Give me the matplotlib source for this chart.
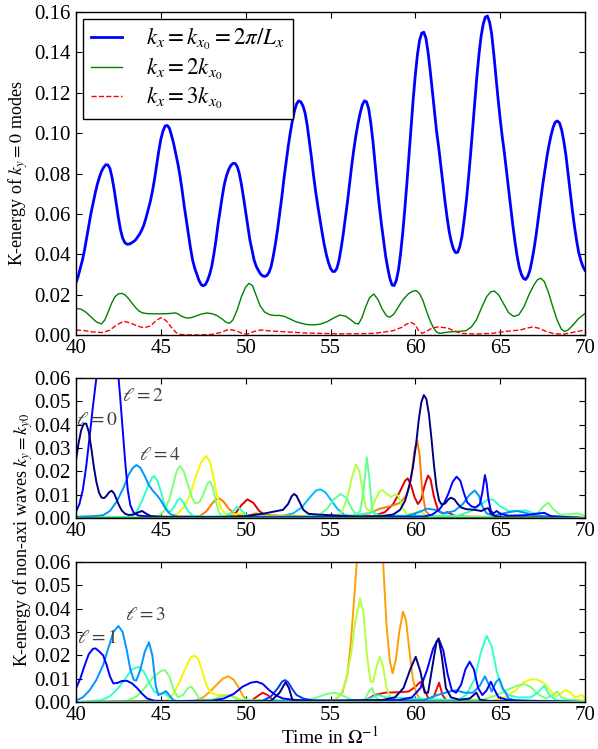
import numpy as np
import matplotlib
matplotlib.use("Agg")
import matplotlib.pyplot as plt
from matplotlib.ticker import FormatStrFormatter

plt.rcParams['font.family'] = 'serif'
plt.rcParams['font.serif'] = ['Liberation Serif', 'DejaVu Serif']
plt.rcParams['mathtext.fontset'] = 'stix'
plt.rcParams['xtick.direction'] = 'in'
plt.rcParams['ytick.direction'] = 'in'
plt.rcParams['xtick.top'] = True
plt.rcParams['ytick.right'] = True
plt.rcParams['xtick.major.size'] = 4
plt.rcParams['ytick.major.size'] = 4
plt.rcParams['xtick.major.pad'] = 3
plt.rcParams['ytick.major.pad'] = 4
plt.rcParams['axes.linewidth'] = 1.0

# ---- top panel: kinetic energy of the k_y = 0 modes (sampled every 0.125) ----
t_top = np.arange(40.0, 70.001, 0.125)
e_kx1 = [
    0.026, 0.029, 0.033, 0.037, 0.042, 0.048, 0.054, 0.060, 0.065, 0.070,
    0.0745, 0.078, 0.081, 0.083, 0.0843, 0.0843, 0.0825, 0.078, 0.072, 0.065,
    0.058, 0.052, 0.048, 0.0458, 0.045, 0.045, 0.0455, 0.0462, 0.047, 0.0485,
    0.050, 0.052, 0.0545, 0.058, 0.062, 0.066, 0.071, 0.077, 0.084, 0.091,
    0.097, 0.101, 0.1035, 0.1038, 0.1025, 0.099, 0.095, 0.090, 0.085, 0.079,
    0.072, 0.064, 0.057, 0.050, 0.043, 0.037, 0.033, 0.030, 0.027, 0.025,
    0.0244, 0.025, 0.027, 0.030, 0.034, 0.040, 0.047, 0.055, 0.062, 0.069,
    0.075, 0.079, 0.082, 0.084, 0.085, 0.085, 0.0835, 0.080, 0.0745, 0.068,
    0.061, 0.054, 0.047, 0.042, 0.037, 0.034, 0.032, 0.0302, 0.0293, 0.029,
    0.0295, 0.031, 0.034, 0.039, 0.045, 0.052, 0.060, 0.068, 0.077, 0.085,
    0.093, 0.100, 0.106, 0.111, 0.1145, 0.116, 0.1155, 0.1135, 0.110, 0.104,
    0.096, 0.088, 0.079, 0.071, 0.064, 0.0575, 0.051, 0.045, 0.040, 0.036,
    0.033, 0.0315, 0.0315, 0.033, 0.037, 0.043, 0.050, 0.058, 0.066, 0.075,
    0.084, 0.092, 0.099, 0.105, 0.110, 0.114, 0.116, 0.1155, 0.112, 0.105,
    0.096, 0.085, 0.074, 0.064, 0.055, 0.047, 0.039, 0.033, 0.028, 0.0248,
    0.0245, 0.027, 0.032, 0.040, 0.050, 0.062, 0.075, 0.089, 0.103, 0.117,
    0.129, 0.139, 0.146, 0.1495, 0.150, 0.147, 0.140, 0.131, 0.121, 0.111,
    0.101, 0.093, 0.084, 0.075, 0.066, 0.058, 0.051, 0.046, 0.0425, 0.0408,
    0.041, 0.044, 0.049, 0.057, 0.066, 0.077, 0.089, 0.102, 0.115, 0.128,
    0.139, 0.148, 0.154, 0.1575, 0.158, 0.155, 0.149, 0.139, 0.128, 0.117,
    0.107, 0.098, 0.090, 0.081, 0.072, 0.063, 0.054, 0.046, 0.039, 0.0335,
    0.030, 0.028, 0.0275, 0.029, 0.032, 0.037, 0.043, 0.050, 0.058, 0.066,
    0.074, 0.081, 0.088, 0.094, 0.099, 0.103, 0.1055, 0.106, 0.105, 0.1015,
    0.096, 0.089, 0.080, 0.071, 0.062, 0.054, 0.047, 0.041, 0.037, 0.034,
    0.032]

kx2_pts = [
    (40.0, 0.0132), (40.3, 0.0128), (40.6, 0.0112), (40.9, 0.0088), (41.2, 0.0065),
    (41.5, 0.0055), (41.7, 0.0075), (41.9, 0.0115), (42.1, 0.0158), (42.3, 0.019),
    (42.5, 0.0204), (42.7, 0.0206), (42.9, 0.0198), (43.1, 0.018), (43.3, 0.0158),
    (43.5, 0.0137), (43.7, 0.0120), (43.9, 0.0110), (44.2, 0.0106), (44.6, 0.0105),
    (45.0, 0.0105), (45.4, 0.0106), (45.7, 0.0108), (45.85, 0.0110), (46.0, 0.0105),
    (46.2, 0.0094), (46.5, 0.0084), (46.8, 0.0086), (47.1, 0.0095), (47.4, 0.0104),
    (47.7, 0.0109), (48.0, 0.0106), (48.3, 0.0097), (48.6, 0.0080), (48.85, 0.0063),
    (49.05, 0.0058), (49.25, 0.0075), (49.5, 0.0125), (49.75, 0.0190), (50.0, 0.0238),
    (50.2, 0.0256), (50.4, 0.0245), (50.6, 0.0200), (50.85, 0.0145), (51.1, 0.0115),
    (51.4, 0.0101), (51.7, 0.0097), (52.0, 0.0097), (52.3, 0.0092), (52.6, 0.0080),
    (52.9, 0.0068), (53.2, 0.0060), (53.6, 0.0052), (54.0, 0.0050), (54.4, 0.0054),
    (54.8, 0.0066), (55.2, 0.0085), (55.55, 0.0099), (55.9, 0.0093), (56.2, 0.0075),
    (56.45, 0.0058), (56.65, 0.0055), (56.85, 0.0085), (57.05, 0.0135), (57.3, 0.0185),
    (57.55, 0.0203), (57.8, 0.0175), (58.05, 0.0128), (58.3, 0.0095), (58.5, 0.0088),
    (58.75, 0.0105), (59.0, 0.0140), (59.3, 0.0178), (59.6, 0.0205), (59.85, 0.0217),
    (60.05, 0.0220), (60.25, 0.0205), (60.45, 0.0170), (60.65, 0.0120), (60.85, 0.0075),
    (61.05, 0.0038), (61.25, 0.0015), (61.45, 0.0008), (61.7, 0.0012), (62.1, 0.0016),
    (62.6, 0.0018), (63.0, 0.0022), (63.3, 0.0040), (63.6, 0.0075), (63.9, 0.0135),
    (64.2, 0.0190), (64.45, 0.0214), (64.65, 0.0218), (64.9, 0.0200), (65.2, 0.0155),
    (65.5, 0.0110), (65.8, 0.0092), (66.1, 0.0100), (66.4, 0.0140), (66.7, 0.0200),
    (67.0, 0.0250), (67.2, 0.0274), (67.4, 0.0281), (67.6, 0.0265), (67.85, 0.0210),
    (68.1, 0.0140), (68.35, 0.0075), (68.6, 0.0030), (68.8, 0.0017), (69.0, 0.0025),
    (69.3, 0.0050), (69.6, 0.0080), (70.0, 0.0107)]

kx3_pts = [
    (40.0, 0.0025), (40.5, 0.0022), (41.0, 0.0015), (41.6, 0.0012), (42.0, 0.0025),
    (42.4, 0.0050), (42.8, 0.0068), (43.2, 0.0060), (43.6, 0.0045), (44.0, 0.0036),
    (44.4, 0.0045), (44.7, 0.0070), (45.0, 0.0086), (45.3, 0.0072), (45.6, 0.0040),
    (45.9, 0.0012), (46.2, 0.0002), (47.0, 0.0), (48.0, 0.0003), (48.5, 0.0012),
    (49.0, 0.0028), (49.4, 0.0022), (49.8, 0.0008), (50.1, 0.0005), (50.5, 0.0018),
    (50.9, 0.0025), (51.5, 0.0020), (52.5, 0.0015), (53.5, 0.0010), (54.5, 0.0008),
    (55.5, 0.0006), (56.5, 0.0006), (57.5, 0.0008), (58.2, 0.0015), (58.7, 0.0022),
    (59.2, 0.0038), (59.5, 0.0055), (59.75, 0.0063), (60.0, 0.0050), (60.2, 0.0020),
    (60.4, 0.0008), (60.7, 0.0020), (61.0, 0.0035), (61.35, 0.0040), (61.9, 0.0035),
    (62.3, 0.0020), (62.7, 0.0008), (63.5, 0.0005), (64.5, 0.0008), (65.3, 0.0018),
    (66.2, 0.0025), (66.6, 0.0035), (66.95, 0.0040), (67.3, 0.0033), (67.7, 0.0018),
    (68.2, 0.0006), (68.8, 0.0005), (69.4, 0.0015), (70.0, 0.0025)]

# ---- middle panel: even azimuthal numbers l, (time, energy) pairs ----
even_l0 = [
    (40.0, 0.025), (40.15, 0.032), (40.3, 0.0375), (40.45, 0.0403), (40.6, 0.0405),
    (40.75, 0.037), (40.9, 0.030), (41.05, 0.022), (41.2, 0.0155), (41.35, 0.011),
    (41.5, 0.0088), (41.65, 0.0085), (41.8, 0.0095), (41.95, 0.011), (42.1, 0.0117),
    (42.25, 0.0105), (42.4, 0.0078), (42.55, 0.0052), (42.7, 0.0032), (42.9, 0.0018),
    (43.1, 0.0013), (43.4, 0.0015), (43.7, 0.0025), (43.9, 0.003), (44.1, 0.002),
    (44.4, 0.0008), (45.0, 0.0005), (46.5, 0.0004), (48.0, 0.0003), (50.0, 0.0008),
    (51.0, 0.0018), (51.7, 0.0028), (52.2, 0.0035), (52.5, 0.006), (52.7, 0.0092),
    (52.85, 0.0103), (53.0, 0.0095), (53.2, 0.0065), (53.4, 0.0035), (53.7, 0.0018),
    (54.2, 0.0015), (55.0, 0.0012), (56.0, 0.0008), (57.0, 0.0006), (58.0, 0.0008),
    (58.7, 0.0015), (59.1, 0.0035), (59.4, 0.0075), (59.65, 0.0140), (59.85, 0.0215),
    (60.05, 0.0320), (60.2, 0.0420), (60.35, 0.0495), (60.5, 0.0527), (60.65, 0.0510),
    (60.8, 0.0445), (60.95, 0.0340), (61.1, 0.0225), (61.25, 0.0130), (61.4, 0.0075),
    (61.55, 0.0058), (61.75, 0.0062), (61.95, 0.0080), (62.1, 0.0087), (62.3, 0.0080),
    (62.5, 0.0060), (62.7, 0.0045), (63.0, 0.0038), (63.5, 0.0035), (63.9, 0.0030),
    (64.15, 0.0040), (64.3, 0.0042), (64.45, 0.0020), (64.7, 0.0008), (65.2, 0.0003),
    (70.0, 0.0)]
even_l2 = [
    (40.0, 0.0027), (40.2, 0.0060), (40.4, 0.0120), (40.6, 0.0220), (40.8, 0.0348),
    (41.0, 0.0480), (41.2, 0.0600), (41.5, 0.0760), (41.9, 0.0850), (42.2, 0.0800),
    (42.45, 0.0650), (42.6, 0.0520), (42.75, 0.0380), (42.9, 0.0240), (43.05, 0.0120),
    (43.2, 0.0055), (43.4, 0.0022), (43.7, 0.0010), (44.5, 0.0006), (45.5, 0.0004),
    (50.0, 0.0003), (55.0, 0.0004), (60.5, 0.0006), (61.0, 0.0015), (61.4, 0.0035),
    (61.7, 0.0065), (61.95, 0.0105), (62.2, 0.0155), (62.43, 0.0177), (62.65, 0.0160),
    (62.85, 0.0110), (63.05, 0.0068), (63.3, 0.0050), (63.55, 0.0045), (63.8, 0.0060),
    (63.95, 0.0110), (64.1, 0.0184), (64.2, 0.0150), (64.3, 0.0085), (64.45, 0.0030),
    (64.6, 0.0020), (64.8, 0.0030), (65.0, 0.0018), (65.5, 0.0010), (66.5, 0.0012),
    (67.3, 0.0020), (67.6, 0.0022), (68.0, 0.0008), (70.0, 0.0)]
even_l4 = [
    (40.0, 0.0005), (41.0, 0.0008), (41.6, 0.0012), (42.0, 0.0030), (42.4, 0.0070),
    (42.8, 0.0130), (43.1, 0.0185), (43.35, 0.0215), (43.57, 0.0227), (43.8, 0.0215),
    (44.05, 0.0180), (44.3, 0.0140), (44.55, 0.0115), (44.8, 0.0095), (45.0, 0.0075),
    (45.2, 0.0050), (45.4, 0.0028), (45.6, 0.0015), (46.0, 0.0006), (50.0, 0.0004),
    (58.0, 0.0005), (59.5, 0.0008), (60.2, 0.0025), (60.7, 0.0040), (61.2, 0.0035),
    (61.7, 0.0020), (62.3, 0.0030), (62.8, 0.0060), (63.2, 0.0100), (63.5, 0.0118),
    (63.75, 0.0095), (63.95, 0.0050), (64.2, 0.0020), (64.6, 0.0010), (65.5, 0.0025),
    (66.0, 0.0030), (66.5, 0.0022), (67.0, 0.0010), (70.0, 0.0)]
even_l6 = [
    (40.0, 0.0), (43.2, 0.0005), (43.6, 0.0030), (43.9, 0.0075), (44.2, 0.0130),
    (44.45, 0.0170), (44.6, 0.0180), (44.8, 0.0160), (45.0, 0.0115), (45.2, 0.0060),
    (45.4, 0.0030), (45.6, 0.0030), (45.8, 0.0050), (46.0, 0.0078), (46.15, 0.0084),
    (46.35, 0.0065), (46.6, 0.0030), (46.9, 0.0010), (47.5, 0.0005), (48.8, 0.0008),
    (49.2, 0.0025), (49.5, 0.0048), (49.8, 0.0030), (50.1, 0.0008), (53.0, 0.0005),
    (54.0, 0.0010), (55.5, 0.0010), (56.5, 0.0012), (57.5, 0.0025), (57.8, 0.0010),
    (62.5, 0.0010), (63.3, 0.0030), (63.9, 0.0060), (64.3, 0.0080), (64.6, 0.0078),
    (65.0, 0.0050), (65.5, 0.0030), (66.0, 0.0030), (66.5, 0.0033), (67.0, 0.0020),
    (67.6, 0.0005), (70.0, 0.0)]
even_l8 = [
    (40.0, 0.0), (44.8, 0.0005), (45.2, 0.0030), (45.5, 0.0080), (45.75, 0.0150),
    (45.95, 0.0205), (46.13, 0.0223), (46.35, 0.0200), (46.6, 0.0140), (46.85, 0.0085),
    (47.05, 0.0062), (47.3, 0.0070), (47.55, 0.0110), (47.75, 0.0148), (47.9, 0.0156),
    (48.05, 0.0135), (48.25, 0.0070), (48.45, 0.0020), (48.7, 0.0005), (66.5, 0.0005),
    (67.2, 0.0020), (67.55, 0.0050), (67.84, 0.0066), (68.1, 0.0040), (68.5, 0.0015),
    (69.0, 0.0015), (69.5, 0.0020), (70.0, 0.0010)]
even_l8b = [
    (40.0, 0.0), (53.5, 0.0005), (54.3, 0.0010), (54.8, 0.0040), (55.2, 0.0080),
    (55.6, 0.0103), (55.95, 0.0085), (56.25, 0.0040), (56.5, 0.0015), (56.75, 0.0030),
    (56.95, 0.0120), (57.14, 0.0260), (57.3, 0.0160), (57.45, 0.0040), (57.7, 0.0010),
    (58.5, 0.0010), (59.5, 0.0008), (60.5, 0.0003), (70.0, 0.0)]
even_l10 = [
    (40.0, 0.0), (45.5, 0.0005), (46.0, 0.0020), (46.4, 0.0050), (46.75, 0.0105),
    (47.05, 0.0175), (47.35, 0.0235), (47.66, 0.0266), (47.9, 0.0240), (48.1, 0.0175),
    (48.3, 0.0100), (48.55, 0.0040), (48.85, 0.0015), (49.3, 0.0015), (49.7, 0.0020),
    (50.2, 0.0008), (54.0, 0.0003), (70.0, 0.0)]
even_l12 = [
    (40.0, 0.0), (47.3, 0.0008), (47.7, 0.0030), (48.0, 0.0060), (48.25, 0.0080),
    (48.45, 0.0084), (48.7, 0.0070), (49.0, 0.0040), (49.4, 0.0015), (50.0, 0.0008),
    (50.6, 0.0020), (51.0, 0.0015), (52.0, 0.0010), (55.0, 0.0008), (56.5, 0.0010),
    (57.3, 0.0020), (57.9, 0.0040), (58.5, 0.0050), (59.1, 0.0065), (59.5, 0.0100),
    (59.75, 0.0170), (59.95, 0.0290), (60.1, 0.0334), (60.25, 0.0270), (60.4, 0.0120),
    (60.6, 0.0030), (60.9, 0.0008), (70.0, 0.0)]
even_l14 = [
    (40.0, 0.0), (49.0, 0.0005), (49.4, 0.0020), (49.75, 0.0055), (50.1, 0.0080),
    (50.45, 0.0065), (50.8, 0.0030), (51.2, 0.0010), (52.0, 0.0005), (57.5, 0.0008),
    (58.2, 0.0025), (58.7, 0.0060), (59.1, 0.0115), (59.4, 0.0160), (59.55, 0.0170),
    (59.75, 0.0140), (59.95, 0.0090), (60.15, 0.0060), (60.35, 0.0080), (60.55, 0.0140),
    (60.75, 0.0182), (60.9, 0.0165), (61.1, 0.0090), (61.35, 0.0030), (61.6, 0.0020),
    (61.9, 0.0025), (62.3, 0.0010), (63.0, 0.0005), (70.0, 0.0)]
even_lsky = [
    (40.0, 0.0), (52.0, 0.0005), (52.8, 0.0020), (53.3, 0.0045), (53.8, 0.0090),
    (54.15, 0.0118), (54.4, 0.0123), (54.7, 0.0110), (55.0, 0.0080), (55.4, 0.0040),
    (55.8, 0.0015), (56.3, 0.0005), (70.0, 0.0)]
even_lyg = [
    (40.0, 0.0), (55.3, 0.0005), (55.7, 0.0030), (56.0, 0.0090), (56.25, 0.0170),
    (56.5, 0.0230), (56.7, 0.0200), (56.9, 0.0110), (57.1, 0.0040), (57.35, 0.0030),
    (57.6, 0.0070), (57.85, 0.0110), (58.05, 0.0120), (58.3, 0.0105), (58.55, 0.0090),
    (58.8, 0.0100), (59.0, 0.0095), (59.2, 0.0050), (59.5, 0.0015), (59.9, 0.0020),
    (60.3, 0.0030), (60.6, 0.0010), (61.0, 0.0003), (70.0, 0.0)]

# ---- bottom panel: odd azimuthal numbers l, (time, energy) pairs ----
odd_l1 = [
    (40.0, 0.0059), (40.25, 0.0100), (40.5, 0.0155), (40.75, 0.0205), (41.0, 0.0228),
    (41.15, 0.0230), (41.35, 0.0218), (41.6, 0.0200), (41.8, 0.0160), (42.0, 0.0110),
    (42.2, 0.0080), (42.45, 0.0082), (42.7, 0.0090), (43.0, 0.0091), (43.3, 0.0080),
    (43.6, 0.0060), (43.9, 0.0035), (44.2, 0.0015), (44.6, 0.0006), (45.5, 0.0004),
    (48.0, 0.0006), (48.7, 0.0015), (49.3, 0.0035), (49.8, 0.0065), (50.3, 0.0083),
    (50.65, 0.0087), (51.0, 0.0078), (51.4, 0.0050), (51.8, 0.0028), (52.2, 0.0015),
    (53.0, 0.0008), (55.0, 0.0005), (59.0, 0.0008), (59.8, 0.0020), (60.3, 0.0060),
    (60.7, 0.0140), (61.05, 0.0230), (61.37, 0.0273), (61.65, 0.0220), (61.9, 0.0120),
    (62.15, 0.0050), (62.4, 0.0040), (62.7, 0.0075), (62.95, 0.0140), (63.2, 0.0173),
    (63.45, 0.0140), (63.7, 0.0060), (63.95, 0.0030), (64.2, 0.0050), (64.45, 0.0087),
    (64.65, 0.0055), (64.9, 0.0020), (65.5, 0.0008), (70.0, 0.0)]
odd_l1b = [
    (40.0, 0.0), (51.0, 0.0005), (51.5, 0.0025), (51.9, 0.0060), (52.15, 0.0088),
    (52.32, 0.0094), (52.5, 0.0085), (52.75, 0.0055), (53.0, 0.0030), (53.4, 0.0015),
    (54.0, 0.0005), (70.0, 0.0)]
odd_l0 = [
    (40.0, 0.0), (51.5, 0.0005), (52.0, 0.0040), (52.35, 0.0085), (52.55, 0.0060),
    (52.75, 0.0010), (53.5, 0.0005), (58.0, 0.0008), (58.8, 0.0020), (59.3, 0.0060),
    (59.7, 0.0140), (60.02, 0.0194), (60.3, 0.0130), (60.55, 0.0040), (60.75, 0.0040),
    (61.0, 0.0150), (61.25, 0.0260), (61.37, 0.0270), (61.55, 0.0200), (61.8, 0.0060),
    (62.1, 0.0020), (62.6, 0.0010), (63.2, 0.0015), (63.6, 0.0040), (63.8, 0.0010),
    (64.3, 0.0005), (70.0, 0.0)]
odd_l3 = [
    (40.0, 0.0006), (40.4, 0.0020), (40.8, 0.0050), (41.2, 0.0095), (41.6, 0.0159),
    (41.9, 0.0230), (42.2, 0.0300), (42.5, 0.0326), (42.75, 0.0300), (43.0, 0.0220),
    (43.2, 0.0140), (43.4, 0.0095), (43.55, 0.0092), (43.8, 0.0140), (44.05, 0.0215),
    (44.3, 0.0256), (44.5, 0.0200), (44.7, 0.0070), (44.85, 0.0030), (45.05, 0.0035),
    (45.3, 0.0047), (45.5, 0.0030), (45.75, 0.0005), (47.0, 0.0003), (60.5, 0.0008),
    (61.3, 0.0030), (62.0, 0.0045), (62.4, 0.0050), (62.9, 0.0040), (63.4, 0.0040),
    (63.8, 0.0070), (64.1, 0.0110), (64.3, 0.0080), (64.5, 0.0045), (64.75, 0.0085),
    (64.95, 0.0100), (65.15, 0.0060), (65.5, 0.0015), (66.0, 0.0005), (70.0, 0.0)]
odd_l5 = [
    (40.0, 0.0), (41.5, 0.0008), (42.0, 0.0025), (42.5, 0.0060), (42.9, 0.0100),
    (43.3, 0.0140), (43.67, 0.0151), (44.0, 0.0130), (44.3, 0.0085), (44.6, 0.0045),
    (44.9, 0.0035), (45.2, 0.0040), (45.5, 0.0020), (45.9, 0.0005), (57.0, 0.0005),
    (57.8, 0.0030), (58.3, 0.0020), (62.5, 0.0008), (63.0, 0.0030), (63.5, 0.0100),
    (63.85, 0.0210), (64.2, 0.0284), (64.5, 0.0240), (64.8, 0.0130), (65.1, 0.0060),
    (65.5, 0.0030), (66.0, 0.0020), (66.8, 0.0020), (67.2, 0.0040), (67.6, 0.0070),
    (67.9, 0.0030), (68.3, 0.0008), (70.0, 0.0)]
odd_l7 = [
    (40.0, 0.0), (43.0, 0.0005), (43.6, 0.0025), (44.1, 0.0065), (44.6, 0.0110),
    (45.0, 0.0133), (45.24, 0.0137), (45.5, 0.0110), (45.75, 0.0055), (46.0, 0.0020),
    (46.3, 0.0030), (46.6, 0.0060), (46.8, 0.0066), (47.05, 0.0040), (47.3, 0.0010),
    (48.0, 0.0010), (48.6, 0.0025), (49.1, 0.0030), (49.5, 0.0010), (53.0, 0.0005),
    (54.0, 0.0015), (54.8, 0.0035), (55.3, 0.0040), (55.8, 0.0025), (56.3, 0.0008),
    (57.0, 0.0010), (57.3, 0.0050), (57.45, 0.0060), (57.65, 0.0020), (58.0, 0.0005),
    (64.0, 0.0010), (64.8, 0.0030), (65.5, 0.0055), (66.0, 0.0070), (66.4, 0.0077),
    (66.8, 0.0065), (67.2, 0.0035), (67.7, 0.0015), (68.1, 0.0030), (68.35, 0.0045),
    (68.6, 0.0020), (69.0, 0.0010), (69.6, 0.0008), (70.0, 0.0005)]
odd_l9 = [
    (40.0, 0.0), (45.3, 0.0005), (45.7, 0.0030), (46.1, 0.0085), (46.45, 0.0145),
    (46.75, 0.0190), (46.97, 0.0199), (47.2, 0.0185), (47.45, 0.0130), (47.7, 0.0070),
    (47.95, 0.0040), (48.3, 0.0030), (48.8, 0.0030), (49.3, 0.0025), (49.7, 0.0010),
    (50.2, 0.0003), (64.5, 0.0005), (65.3, 0.0020), (65.9, 0.0050), (66.4, 0.0085),
    (66.8, 0.0097), (67.2, 0.0096), (67.6, 0.0080), (67.95, 0.0050), (68.25, 0.0025),
    (68.55, 0.0035), (68.85, 0.0052), (69.15, 0.0040), (69.4, 0.0020), (69.65, 0.0025),
    (69.85, 0.0030), (70.0, 0.0010)]
odd_l11 = [
    (40.0, 0.0), (47.0, 0.0005), (47.5, 0.0020), (47.9, 0.0045), (48.3, 0.0075),
    (48.65, 0.0100), (48.97, 0.0111), (49.3, 0.0095), (49.6, 0.0060), (49.85, 0.0025),
    (50.1, 0.0008), (51.0, 0.0003), (54.5, 0.0003), (55.3, 0.0010), (55.7, 0.0040),
    (56.0, 0.0120), (56.2, 0.0258), (56.4, 0.0450), (56.6, 0.0650), (57.0, 0.0850),
    (57.5, 0.0900), (57.9, 0.0750), (58.1, 0.0600), (58.3, 0.0330), (58.5, 0.0175),
    (58.66, 0.0123), (58.85, 0.0180), (59.05, 0.0300), (59.27, 0.0387), (59.45, 0.0350),
    (59.65, 0.0220), (59.85, 0.0100), (60.05, 0.0040), (60.3, 0.0010), (61.0, 0.0003),
    (70.0, 0.0)]
odd_l13 = [
    (40.0, 0.0), (55.2, 0.0005), (55.6, 0.0030), (55.9, 0.0090), (56.2, 0.0200),
    (56.45, 0.0340), (56.74, 0.0444), (56.95, 0.0380), (57.15, 0.0200), (57.35, 0.0090),
    (57.5, 0.0085), (57.7, 0.0150), (57.9, 0.0194), (58.1, 0.0150), (58.3, 0.0060),
    (58.55, 0.0015), (59.0, 0.0005), (70.0, 0.0)]
odd_l15 = [
    (40.0, 0.0), (50.3, 0.0005), (50.7, 0.0025), (51.0, 0.0040), (51.3, 0.0030),
    (51.6, 0.0008), (52.2, 0.0003), (57.0, 0.0005), (57.6, 0.0030), (58.2, 0.0040),
    (59.0, 0.0042), (59.6, 0.0045), (60.0, 0.0065), (60.3, 0.0087), (60.55, 0.0050),
    (60.8, 0.0010), (61.1, 0.0025), (61.4, 0.0083), (61.6, 0.0030), (61.85, 0.0005),
    (70.0, 0.0)]

# colour of each curve, as a position along the jet colour map
jet = plt.get_cmap('jet')
even_curves = [(even_lsky, 0.31), (even_l14, 0.92), (even_l12, 0.78), (even_l10, 0.65),
               (even_lyg, 0.57), (even_l8b, 0.47), (even_l8, 0.50), (even_l6, 0.41),
               (even_l4, 0.27), (even_l2, 0.12), (even_l0, 0.0)]
odd_curves = [(odd_l15, 0.90), (odd_l11, 0.74), (odd_l13, 0.57), (odd_l9, 0.65),
              (odd_l7, 0.50), (odd_l5, 0.41), (odd_l3, 0.27), (odd_l1b, 0.18),
              (odd_l1, 0.12), (odd_l0, 0.0)]

fig = plt.figure(figsize=(5.98, 7.49), dpi=100)
ax1 = fig.add_axes([0.1271, 0.5527, 0.8512, 0.4313])
ax2 = fig.add_axes([0.1271, 0.3084, 0.8512, 0.1869])
ax3 = fig.add_axes([0.1271, 0.0627, 0.8512, 0.1869])

ax1.plot(t_top, e_kx1, color='b', lw=2.0, label=r'$k_x = k_{x_0} = 2\pi/L_x$')
ax1.plot(*zip(*kx2_pts), color='g', lw=1.0, label=r'$k_x = 2k_{x_0}$')
ax1.plot(*zip(*kx3_pts), color='r', lw=1.0, ls='--', label=r'$k_x = 3k_{x_0}$')
ax1.set_xlim(40, 70)
ax1.set_ylim(0, 0.16)
ax1.set_yticks(np.arange(0, 0.161, 0.02))
ax1.set_ylabel(r'K-energy of $k_y = 0$ modes', fontsize=13, labelpad=3)
leg = ax1.legend(loc='upper left', fontsize=16.5, fancybox=False, framealpha=1,
                 edgecolor='k', handlelength=1.35, handletextpad=1.05,
                 borderpad=0.35, labelspacing=0.2, borderaxespad=0.3)
leg.get_frame().set_linewidth(1.0)

for ax, curves, base in ((ax2, even_curves, (0.25, 0.62, 0.25)),
                         (ax3, odd_curves, (0.55, 0.85, 0.55))):
    for pts, c in curves:
        ax.plot(*zip(*pts), color=jet(c), lw=1.4)
    ax.axhline(0, color=base, lw=1.6)
    ax.set_xlim(40, 70)
    ax.set_ylim(0, 0.06)
    ax.set_yticks(np.arange(0, 0.061, 0.01))

for ax in (ax1, ax2, ax3):
    ax.set_xticks(np.arange(40, 71, 5))
    ax.tick_params(labelsize=15)
    ax.yaxis.set_major_formatter(FormatStrFormatter('%.2f'))

lab = dict(fontsize=14, va='center', color='0.25')
ax2.text(40.0, 0.042, r'$\ell = 0$', **lab)
ax2.text(42.7, 0.052, r'$\ell = 2$', **lab)
ax2.text(43.7, 0.027, r'$\ell = 4$', **lab)
ax3.text(40.05, 0.0273, r'$\ell = 1$', **lab)
ax3.text(42.9, 0.0373, r'$\ell = 3$', **lab)

fig.text(0.038, 0.279, r'K-energy of non-axi waves $k_y = k_{y0}$', rotation=90,
         fontsize=13, ha='center', va='center')
fig.text(0.552, 0.0165, r'Time in $\Omega^{-1}$', fontsize=14, ha='center', va='center')

fig.savefig('out.png', dpi=100)
